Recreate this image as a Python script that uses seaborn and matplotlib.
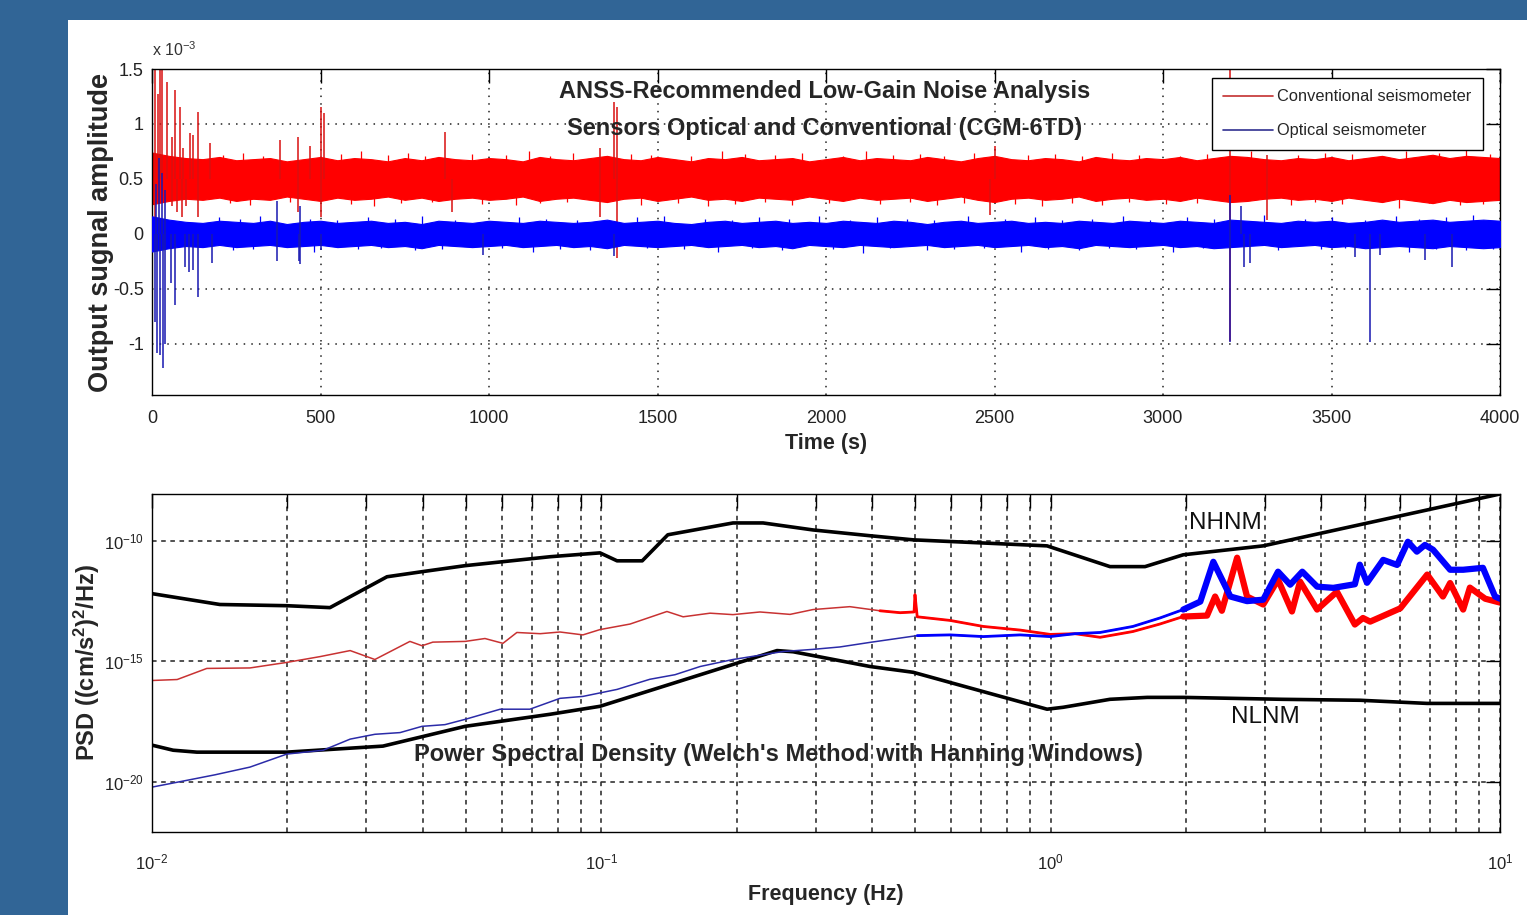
import numpy as np
import pandas as pd
import matplotlib
matplotlib.use("Agg")
import matplotlib.pyplot as plt
from matplotlib.lines import Line2D
from matplotlib.patches import Rectangle
from matplotlib.ticker import FixedLocator, NullLocator, LogLocator, NullFormatter, FuncFormatter
import seaborn as sns

# ---------------- data: time series (units of 1e-3) ----------------
time_s = list(range(0, 4001, 50))
red_upper = [0.74, 0.71, 0.69, 0.68, 0.70, 0.67, 0.68, 0.69, 0.66, 0.68,
             0.70, 0.67, 0.69, 0.68, 0.66, 0.69, 0.67, 0.70, 0.68, 0.67,
             0.69, 0.68, 0.66, 0.70, 0.68, 0.67, 0.69, 0.71, 0.68, 0.67,
             0.70, 0.68, 0.66, 0.69, 0.68, 0.70, 0.67, 0.68, 0.69, 0.66,
             0.68, 0.70, 0.67, 0.69, 0.68, 0.67, 0.70, 0.68, 0.66, 0.69,
             0.71, 0.68, 0.67, 0.69, 0.68, 0.66, 0.70, 0.68, 0.67, 0.69,
             0.68, 0.70, 0.67, 0.69, 0.71, 0.70, 0.68, 0.67, 0.69, 0.68,
             0.70, 0.67, 0.69, 0.71, 0.68, 0.70, 0.72, 0.69, 0.71, 0.70,
             0.69]
red_lower = [0.27, 0.30, 0.32, 0.31, 0.33, 0.30, 0.32, 0.31, 0.34, 0.32,
             0.30, 0.33, 0.31, 0.32, 0.34, 0.31, 0.33, 0.30, 0.32, 0.33,
             0.31, 0.32, 0.34, 0.30, 0.32, 0.33, 0.31, 0.29, 0.32, 0.33,
             0.30, 0.32, 0.34, 0.31, 0.32, 0.30, 0.33, 0.32, 0.31, 0.34,
             0.32, 0.30, 0.33, 0.31, 0.32, 0.33, 0.30, 0.32, 0.34, 0.31,
             0.29, 0.32, 0.33, 0.31, 0.32, 0.34, 0.30, 0.32, 0.33, 0.31,
             0.32, 0.30, 0.33, 0.31, 0.29, 0.30, 0.32, 0.33, 0.31, 0.32,
             0.30, 0.33, 0.31, 0.29, 0.32, 0.30, 0.28, 0.31, 0.29, 0.30,
             0.31]
blue_upper = [0.16, 0.13, 0.11, 0.10, 0.12, 0.11, 0.10, 0.12, 0.09, 0.11,
              0.12, 0.10, 0.11, 0.12, 0.10, 0.11, 0.09, 0.12, 0.11, 0.10,
              0.12, 0.11, 0.10, 0.12, 0.11, 0.10, 0.11, 0.13, 0.10, 0.11,
              0.12, 0.10, 0.09, 0.11, 0.12, 0.10, 0.11, 0.12, 0.10, 0.11,
              0.10, 0.12, 0.11, 0.10, 0.12, 0.11, 0.09, 0.11, 0.12, 0.10,
              0.11, 0.12, 0.10, 0.11, 0.10, 0.12, 0.11, 0.10, 0.12, 0.11,
              0.10, 0.12, 0.11, 0.10, 0.13, 0.12, 0.11, 0.10, 0.12, 0.11,
              0.12, 0.10, 0.11, 0.13, 0.11, 0.12, 0.13, 0.11, 0.12, 0.13,
              0.12]
blue_lower = [-0.16, -0.13, -0.11, -0.12, -0.10, -0.12, -0.11, -0.10, -0.12, -0.11,
              -0.10, -0.12, -0.11, -0.10, -0.12, -0.11, -0.13, -0.10, -0.11, -0.12,
              -0.11, -0.10, -0.12, -0.11, -0.10, -0.12, -0.11, -0.13, -0.10, -0.11,
              -0.12, -0.11, -0.10, -0.12, -0.11, -0.10, -0.12, -0.11, -0.13, -0.10,
              -0.11, -0.12, -0.10, -0.11, -0.12, -0.11, -0.10, -0.12, -0.11, -0.10,
              -0.12, -0.11, -0.10, -0.12, -0.11, -0.13, -0.10, -0.11, -0.12, -0.11,
              -0.10, -0.12, -0.11, -0.13, -0.12, -0.11, -0.10, -0.12, -0.11, -0.10,
              -0.12, -0.11, -0.13, -0.12, -0.11, -0.12, -0.13, -0.11, -0.12, -0.13,
              -0.12]

# big excursions
red_spike_t = [8, 18, 24, 30, 45, 59, 68, 83, 92, 113, 122, 137, 172, 380, 433, 469, 500, 510, 870, 1330, 1370,
               1380, 2500, 3199, 3310]
red_spike_top = [1.5, 1.27, 1.5, 1.5, 1.38, 0.88, 1.31, 1.15, 0.78, 0.92, 0.90, 1.11, 0.83, 0.85, 0.88, 0.80, 1.15,
                 1.10, 0.93, 0.78, 1.20, 1.15, 0.80, 1.6, 0.72]
red_drop_t = [10, 60, 75, 90, 100, 137, 433, 500, 890, 1330, 1380, 2487, 3199, 3310]
red_drop_bottom = [0.05, 0.25, 0.20, 0.15, 0.25, 0.15, 0.20, 0.15, 0.20, 0.15, -0.22, 0.17, -0.97, 0.13]
blue_spike_t = [10, 14, 24, 32, 39, 55, 68, 98, 110, 122, 137, 178, 370, 435, 440, 500, 983, 1370, 3199, 3240,
                3258, 3570, 3614, 3643, 3777, 3857]
blue_spike_bottom = [-0.80, -1.08, -1.10, -1.22, -1.00, -0.45, -0.65, -0.30, -0.35, -0.33, -0.57, -0.26, -0.25,
                     -0.25, -0.27, -0.15, -0.19, -0.20, -0.98, -0.30, -0.26, -0.21, -0.98, -0.19, -0.24, -0.30]
blue_rise_t = [12, 22, 30, 40, 370, 440, 3199, 3230]
blue_rise_top = [0.45, 0.69, 0.55, 0.40, 0.30, 0.25, 0.35, 0.25]

# small whiskers on the band edges
red_tick_t = [210, 270, 330, 560, 620, 700, 760, 810, 950, 1050, 1120, 1180, 1250, 1420, 1480, 1600, 1690, 1760,
              1850, 1930, 2050, 2120, 2200, 2280, 2350, 2440, 2600, 2680, 2760, 2850, 2930, 3050, 3130, 3260, 3400,
              3480, 3560, 3650, 3720, 3820, 3900, 3970]
red_tick_top = [0.72, 0.74, 0.71, 0.73, 0.75, 0.72, 0.74, 0.71, 0.73, 0.72, 0.75, 0.71, 0.74, 0.73, 0.72, 0.71,
                0.75, 0.73, 0.72, 0.74, 0.71, 0.75, 0.72, 0.73, 0.71, 0.74, 0.72, 0.73, 0.71, 0.74, 0.72, 0.71, 0.73,
                0.75, 0.72, 0.74, 0.73, 0.71, 0.75, 0.74, 0.76, 0.73]
red_low_t = [230, 290, 410, 590, 660, 740, 830, 980, 1080, 1150, 1230, 1450, 1560, 1650, 1730, 1820, 1900, 2010,
             2160, 2250, 2330, 2410, 2560, 2640, 2730, 2820, 2900, 3010, 3100, 3380, 3450, 3530, 3700, 3790, 3880,
             3950]
red_low_bottom = [0.28, 0.26, 0.29, 0.27, 0.25, 0.28, 0.29, 0.27, 0.26, 0.28, 0.29, 0.26, 0.28, 0.25, 0.27, 0.29,
                  0.26, 0.28, 0.27, 0.29, 0.26, 0.28, 0.27, 0.25, 0.28, 0.26, 0.29, 0.27, 0.28, 0.26, 0.29, 0.27,
                  0.24, 0.28, 0.26, 0.27]
blue_tick_t = [200, 260, 320, 470, 550, 640, 720, 800, 900, 1090, 1170, 1260, 1440, 1520, 1640, 1720, 1800, 1890,
               1980, 2070, 2150, 2240, 2320, 2420, 2530, 2620, 2700, 2790, 2880, 2960, 3070, 3150, 3300, 3420, 3500,
               3600, 3690, 3760, 3840, 3920]
blue_tick_top = [0.15, 0.14, 0.16, 0.14, 0.13, 0.15, 0.14, 0.16, 0.13, 0.15, 0.14, 0.13, 0.15, 0.16, 0.14, 0.13,
                 0.15, 0.14, 0.16, 0.13, 0.15, 0.14, 0.13, 0.16, 0.14, 0.15, 0.13, 0.14, 0.16, 0.13, 0.15, 0.14,
                 0.17, 0.14, 0.15, 0.13, 0.16, 0.14, 0.15, 0.17]
blue_low_t = [240, 300, 480, 610, 680, 780, 860, 1040, 1130, 1210, 1300, 1470, 1580, 1680, 1780, 1870, 2020, 2110,
              2190, 2300, 2380, 2470, 2580, 2660, 2750, 2840, 2920, 3030, 3120, 3340, 3470, 3540, 3730, 3810, 3900,
              3980]
blue_low_bottom = [-0.15, -0.14, -0.16, -0.14, -0.13, -0.15, -0.14, -0.13, -0.16, -0.14, -0.15, -0.13, -0.14,
                   -0.16, -0.13, -0.15, -0.14, -0.17, -0.13, -0.15, -0.14, -0.13, -0.16, -0.14, -0.15, -0.13,
                   -0.14, -0.16, -0.13, -0.15, -0.14, -0.13, -0.16, -0.14, -0.15, -0.14]

# ---------------- data: PSD (log10 f, log10 psd) ----------------
nhnm_logf = [-2.000, -1.849, -1.700, -1.604, -1.477, -1.399, -1.303, -1.114, -1.003, -0.965, -0.909, -0.852,
             -0.707, -0.640, -0.529, -0.402, -0.306, -0.008, 0.132, 0.210, 0.295, 0.473, 1.000]
nhnm_logp = [-12.19, -12.64, -12.69, -12.77, -11.49, -11.28, -11.03, -10.66, -10.50, -10.83, -10.83, -9.75,
             -9.26, -9.26, -9.55, -9.79, -9.96, -10.21, -11.07, -11.07, -10.58, -10.21, -8.06]
nlnm_logf = [-2.000, -1.953, -1.900, -1.700, -1.486, -1.303, -1.114, -1.003, -0.609, -0.573, -0.402, -0.306,
             -0.008, 0.028, 0.132, 0.215, 0.295, 0.515, 0.689, 0.838, 1.000]
nlnm_logp = [-18.47, -18.68, -18.76, -18.76, -18.51, -17.69, -17.19, -16.86, -14.55, -14.60, -15.21, -15.45,
             -16.98, -16.90, -16.57, -16.49, -16.49, -16.57, -16.61, -16.74, -16.74]
conv_logf = [-2.000, -1.944, -1.878, -1.782, -1.700, -1.626, -1.559, -1.504, -1.426, -1.399, -1.375, -1.303,
             -1.259, -1.219, -1.188, -1.136, -1.092, -1.041, -1.003, -0.936, -0.854, -0.818, -0.758, -0.707,
             -0.647, -0.580, -0.529, -0.447, -0.380, -0.335, -0.304, -0.302, -0.297, -0.224, -0.150, -0.068,
             -0.001, 0.054, 0.110, 0.183, 0.243, 0.295, 0.348, 0.366, 0.381, 0.415, 0.437, 0.473, 0.506, 0.537,
             0.555, 0.593, 0.637, 0.677, 0.695, 0.711, 0.778, 0.838, 0.873, 0.889, 0.918, 0.933, 0.967, 1.000]
conv_logp = [-15.79, -15.75, -15.29, -15.27, -15.04, -14.80, -14.55, -14.92, -14.17, -14.35, -14.20, -14.17,
             -14.05, -14.25, -13.80, -13.85, -13.78, -13.90, -13.68, -13.45, -12.93, -13.15, -13.00, -13.06,
             -12.95, -13.05, -12.85, -12.73, -12.90, -12.98, -12.95, -12.23, -13.15, -13.30, -13.55, -13.70,
             -13.88, -13.85, -14.00, -13.76, -13.45, -13.14, -13.10, -12.31, -12.90, -10.70, -12.31, -12.64,
             -11.61, -12.93, -11.69, -12.85, -12.11, -13.47, -13.20, -13.35, -12.80, -11.40, -12.31, -11.75,
             -12.85, -11.94, -12.40, -12.56]
opt_logf = [-2.000, -1.931, -1.860, -1.782, -1.700, -1.619, -1.559, -1.504, -1.448, -1.399, -1.348, -1.303,
            -1.225, -1.159, -1.092, -1.041, -0.965, -0.892, -0.836, -0.780, -0.707, -0.596, -0.529, -0.469,
            -0.402, -0.297, -0.224, -0.150, -0.068, -0.001, 0.054, 0.110, 0.183, 0.243, 0.295, 0.333, 0.362,
            0.400, 0.437, 0.473, 0.506, 0.533, 0.560, 0.593, 0.629, 0.677, 0.688, 0.704, 0.740, 0.771, 0.795,
            0.815, 0.833, 0.851, 0.889, 0.918, 0.962, 0.989, 1.000]
opt_logp = [-20.21, -19.96, -19.70, -19.38, -18.84, -18.68, -18.22, -18.02, -17.95, -17.69, -17.62, -17.40,
            -16.98, -16.98, -16.53, -16.45, -16.16, -15.74, -15.55, -15.21, -14.92, -14.59, -14.50, -14.40,
            -14.21, -13.93, -13.90, -13.97, -13.90, -13.97, -13.85, -13.80, -13.55, -13.20, -12.85, -12.52,
            -10.87, -12.31, -12.50, -12.44, -11.28, -11.82, -11.28, -11.90, -11.95, -11.80, -10.99, -11.74,
            -10.79, -11.00, -10.04, -10.45, -10.17, -10.37, -11.20, -11.20, -11.12, -12.31, -12.40]

# ---------------- style ----------------
sns.set_style("white")
FONT = 'Liberation Sans'
plt.rcParams['font.family'] = [FONT, 'DejaVu Sans']
plt.rcParams['mathtext.fontset'] = 'custom'
plt.rcParams['mathtext.rm'] = FONT
plt.rcParams['mathtext.it'] = FONT
plt.rcParams['mathtext.bf'] = FONT + ':bold'

W, H = 1527, 915
fig = plt.figure(figsize=(W / 100, H / 100), dpi=100)
fig.patch.set_facecolor('#316596')
fig.patches.append(Rectangle((68 / W, 0), 1 - 68 / W, 1 - 20 / H, transform=fig.transFigure,
                             facecolor='white', edgecolor='none', zorder=-10))


def fx(px):
    return px / W


def fy(py):
    return 1 - py / H


ax1 = fig.add_axes([fx(152), fy(395), fx(1500) - fx(152), fy(69) - fy(395)])
ax2 = fig.add_axes([fx(152), fy(832), fx(1500) - fx(152), fy(494) - fy(832)])

RED, BLUE = '#FF0000', '#0000FF'

# ---- top panel ----
ax1.fill_between(time_s, red_lower, red_upper, color=RED, lw=0.8, zorder=2)
ax1.vlines(red_spike_t, 0.5, red_spike_top, color='#D81010', lw=1.1, zorder=2)
ax1.vlines(red_drop_t, red_drop_bottom, 0.5, color='#D81010', lw=1.1, zorder=2)
ax1.vlines(red_tick_t, 0.5, red_tick_top, color=RED, lw=0.9, zorder=2)
ax1.vlines(red_low_t, red_low_bottom, 0.5, color=RED, lw=0.9, zorder=2)
ax1.fill_between(time_s, blue_lower, blue_upper, color=BLUE, lw=0.8, zorder=3)
ax1.vlines(blue_spike_t, blue_spike_bottom, 0, color='#1818B0', lw=1.1, zorder=3)
ax1.vlines(blue_rise_t, 0, blue_rise_top, color='#1818B0', lw=1.1, zorder=3)
ax1.vlines(blue_tick_t, 0, blue_tick_top, color=BLUE, lw=0.9, zorder=3)
ax1.vlines(blue_low_t, blue_low_bottom, 0, color=BLUE, lw=0.9, zorder=3)

ax1.set_xlim(0, 4000)
ax1.set_ylim(-1.465, 1.5)
ax1.xaxis.set_major_locator(FixedLocator(list(range(0, 4001, 500))))
ax1.yaxis.set_major_locator(FixedLocator([-1, -0.5, 0, 0.5, 1, 1.5]))
ax1.yaxis.set_major_formatter(FuncFormatter(lambda v, p: '%g' % v))
ax1.grid(True, which='major', color='#222222', linestyle=(0, (1, 4)), lw=1.1)
ax1.set_xlabel('Time (s)', fontsize=15.5, fontweight='bold', labelpad=4)
ax1.set_ylabel('Output sugnal amplitude', fontsize=19.5, fontweight='bold')
ax1.yaxis.set_label_coords(-0.028, 0.5)
ax1.text(0, 1.058, r'x 10$^{-3}$', transform=ax1.transAxes, fontsize=11.5, color='#333333', va='center')
ax1.text(0.499, 0.93, 'ANSS-Recommended Low-Gain Noise Analysis', transform=ax1.transAxes,
         ha='center', va='center', fontsize=17, fontweight='bold', zorder=6)
ax1.text(0.499, 0.817, 'Sensors Optical and Conventional (CGM-6TD)', transform=ax1.transAxes,
         ha='center', va='center', fontsize=17, fontweight='bold', zorder=6)
handles = [Line2D([], [], color='#C43030', lw=1.2), Line2D([], [], color='#303090', lw=1.2)]
leg = ax1.legend(handles, ['Conventional seismometer', 'Optical seismometer'], loc='upper right',
                 bbox_to_anchor=(0.9875, 0.9724), borderaxespad=0, fontsize=11.8, frameon=True,
                 fancybox=False, edgecolor='black', framealpha=1, handlelength=3.0, handletextpad=0.3,
                 borderpad=0.7, labelspacing=1.15)
leg.get_frame().set_linewidth(1.0)
leg.set_zorder(7)

# ---- bottom panel ----
def draw_psd(logf, logp, color, lw, fmin=None):
    df = pd.DataFrame({'f': np.power(10.0, logf), 'p': np.power(10.0, logp)})
    if fmin is not None:
        df = df[df['f'] >= fmin]
    sns.lineplot(data=df, x='f', y='p', ax=ax2, color=color, lw=lw, estimator=None, sort=False)


draw_psd(nhnm_logf, nhnm_logp, 'black', 2.6)
draw_psd(nlnm_logf, nlnm_logp, 'black', 2.6)
draw_psd(conv_logf, conv_logp, '#C83232', 1.1)
draw_psd(conv_logf, conv_logp, RED, 2.0, fmin=0.4)
draw_psd(conv_logf, conv_logp, RED, 4.5, fmin=1.9)
draw_psd(opt_logf, opt_logp, '#2B2BA8', 1.1)
draw_psd(opt_logf, opt_logp, BLUE, 2.0, fmin=0.4)
draw_psd(opt_logf, opt_logp, BLUE, 4.5, fmin=1.9)

ax2.set_xscale('log')
ax2.set_yscale('log')
ax2.set_xlim(1e-2, 1e1)
ax2.set_ylim(10 ** -22.07, 10 ** -8.06)
ax2.xaxis.set_major_locator(FixedLocator([1e-2, 1e-1, 1e0, 1e1]))
ax2.xaxis.set_minor_locator(LogLocator(base=10, subs=np.arange(2, 10)))
ax2.xaxis.set_minor_formatter(NullFormatter())
ax2.xaxis.set_major_formatter(FuncFormatter(lambda v, p: r'$10^{%d}$' % round(np.log10(v))))
ax2.yaxis.set_major_locator(FixedLocator([1e-20, 1e-15, 1e-10]))
ax2.yaxis.set_minor_locator(NullLocator())
ax2.yaxis.set_major_formatter(FuncFormatter(lambda v, p: r'$10^{%d}$' % round(np.log10(v))))
ax2.grid(True, which='major', color='#222222', linestyle=(0, (3, 3)), lw=1.1)
ax2.grid(True, which='minor', axis='x', color='#222222', linestyle=(0, (3, 3)), lw=1.1)
ax2.set_xlabel('Frequency (Hz)', fontsize=15.5, fontweight='bold', labelpad=8)
ax2.set_ylabel(r'PSD ((cm/s$^{\mathbf{2}}$)$^{\mathbf{2}}$/Hz)', fontsize=17, fontweight='bold')
ax2.yaxis.set_label_coords(-0.037, 0.5)
ax2.text(10 ** 0.388, 10 ** -9.26, 'NHNM', fontsize=17.5, ha='center', va='center', color='#111111')
ax2.text(10 ** 0.478, 10 ** -17.3, 'NLNM', fontsize=17.5, ha='center', va='center', color='#111111')
ax2.text(0.465, 0.23, "Power Spectral Density (Welch's Method with Hanning Windows)", transform=ax2.transAxes,
         ha='center', va='center', fontsize=17, fontweight='bold', zorder=6)

for ax in (ax1, ax2):
    for s in ax.spines.values():
        s.set_color('black')
        s.set_linewidth(1.0)
    ax.tick_params(which='both', direction='in', top=True, right=True, length=10, width=1.0,
                   colors='black', labelcolor='#222222', labelsize=13)
ax1.tick_params(axis='x', pad=11)
ax1.tick_params(axis='y', pad=6)
ax2.tick_params(axis='both', which='both', labelsize=12)
ax2.tick_params(axis='x', which='both', pad=15)
ax2.tick_params(axis='y', pad=6)

fig.savefig('out.png', dpi=100, facecolor=fig.get_facecolor())
